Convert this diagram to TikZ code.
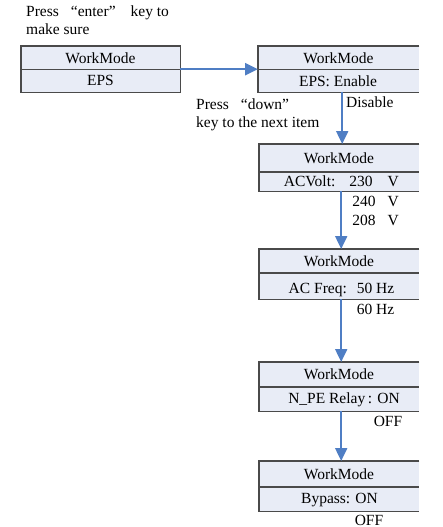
\documentclass[tikz,border=0pt]{standalone}
\usepackage{fontspec}
\setmainfont{Liberation Serif}
\usetikzlibrary{arrows.meta}
\definecolor{boxfill}{HTML}{E8ECF6}
\definecolor{boxline}{HTML}{4A4A4A}
\definecolor{arrblue}{HTML}{4F7EC4}
\begin{document}
\begin{tikzpicture}[x=1pt,y=-1pt,
  font=\fontsize{15.5}{18}\selectfont,
  panel/.style={fill=boxfill,draw=none,minimum width=#1,minimum height=47pt,inner sep=0pt,anchor=north west},
  border/.style={draw=boxline,line width=1.3pt},
  lbl/.style={inner sep=0pt,anchor=center},
  note/.style={inner sep=0pt,align=left},
  arr/.style={draw=arrblue,line width=2pt,-{Triangle[length=13pt,width=12pt]}}
]
\useasboundingbox (0,0) rectangle (443,527);

% left box
\node[panel=159pt,minimum height=46pt] (L) at (21,46) {};
\draw[border] (L.north west) rectangle (L.south east);
\draw[border] (L.west) -- (L.east);
\node[lbl] (Lt) at (100.5,58) {WorkMode};
\node[lbl] (Lv) at (100.5,80) {EPS};

% right box 1
\node[panel=161pt,minimum height=46pt] (R1) at (258,46) {};
\draw[border] (R1.north east) -- (R1.north west) -- (R1.south west) -- (R1.south east);
\draw[border] (R1.west) -- (R1.east);
\node[lbl] (R1t) at (338.5,58) {WorkMode};
\node[lbl] (R1v) at (338,81) {EPS: Enable};

% right box 2
\node[panel=160pt] (R2) at (259,144) {};
\draw[border] (R2.north east) -- (R2.north west) -- (R2.south west) -- (R2.south east);
\draw[border] (259,172) -- (419,172);
\node[lbl] (R2t) at (339,158) {WorkMode};
\node[lbl,anchor=east] (R2v) at (399,181) {ACVolt:\hspace{14pt}230\hspace{15pt}V};

% right box 3
\node[panel=160pt,minimum height=50pt] (R3) at (259,249) {};
\draw[border] (R3.north east) -- (R3.north west) -- (R3.south west) -- (R3.south east);
\draw[border] (259,273) -- (419,273);
\node[lbl] (R3t) at (339,261) {WorkMode};
\node[lbl,anchor=east] (R3v) at (394.5,290) {AC Freq:\hspace{10pt}50 Hz};

% right box 4
\node[panel=160pt,minimum height=49pt] (R4) at (259,362) {};
\draw[border] (R4.north east) -- (R4.north west) -- (R4.south west) -- (R4.south east);
\draw[border] (259,387) -- (419,387);
\node[lbl] (R4t) at (339,374) {WorkMode};
\node[lbl] (R4v) at (344,400) {N\_PE Relay\,: ON};

% right box 5
\node[panel=160pt,minimum height=50pt] (R5) at (259,461) {};
\draw[border] (R5.north east) -- (R5.north west) -- (R5.south west) -- (R5.south east);
\draw[border] (259,487) -- (419,487);
\node[lbl] (R5t) at (339,474) {WorkMode};
\node[lbl] (R5v) at (339.5,500) {Bypass: ON};

% option lists and notes
\node[note,anchor=north west] (n1) at (26,6) {Press\hspace{12pt}“enter”\hspace{15pt}key to\\make sure};
\node[note,anchor=west] (o1) at (346,102) {Disable};
\node[note,anchor=north west] (n2) at (196,99) {Press\hspace{12pt}“down”\\key to the next item};
\node[lbl,anchor=east] (o2) at (399,201) {240\hspace{12pt}V};
\node[lbl,anchor=east] (o3) at (399,220) {208\hspace{12pt}V};
\node[lbl,anchor=east] (o4) at (394.5,309) {60 Hz};
\node[lbl] (o5) at (388,421) {OFF};
\node[lbl] (o6) at (369,520) {OFF};

% connectors
\draw[arr,line width=2.4pt] (L.east) -- (L.east -| R1.west);
\draw[arr] ([xshift=3.5pt]R1.south) -- ([xshift=3.5pt]R1.south |- R2.north);
\draw[arr] ([xshift=2pt]R2.south) -- ([xshift=2pt]R3.north);
\draw[arr] ([xshift=2pt]R3.south) -- ([xshift=2pt]R4.north);
\draw[arr] ([xshift=2pt]R4.south) -- ([xshift=2pt]R5.north);
\end{tikzpicture}
\end{document}
